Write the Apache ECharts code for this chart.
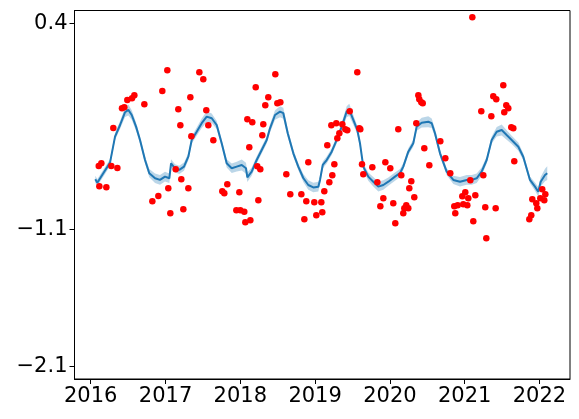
<!DOCTYPE html>
<html>
<head>
<meta charset="utf-8">
<script src="https://cdn.jsdelivr.net/npm/echarts@6/dist/echarts.min.js"></script>
<style>html,body{margin:0;padding:0;background:#fff}#c{width:579px;height:419px}</style>
</head>
<body>
<div id="c"></div>
<script>
// x tick labels (years) and y tick labels
const xTicks = [2016, 2017, 2018, 2019, 2020, 2021, 2022];
const yTicks = [0.4, -1.1, -2.1];

// observations (decimal year, value)
const pointX = [2016.107,2016.142,2016.115,2016.209,2016.275,2016.356,2016.302,2016.418,2016.449,2016.489,2016.552,2016.583,2016.717,2016.957,2017.024,2016.824,2016.904,2017.037,2017.064,2017.136,2017.211,2017.238,2017.305,2017.171,2017.198,2017.332,2017.345,2017.452,2017.505,2017.545,2017.572,2017.639,2017.759,2017.786,2017.826,2017.987,2017.947,2018.000,2018.053,2018.067,2018.134,2018.241,2018.094,2018.160,2018.120,2018.227,2018.267,2018.206,2018.294,2018.307,2018.334,2018.374,2018.468,2018.495,2018.535,2018.615,2018.668,2018.816,2018.882,2018.909,2018.856,2018.989,2019.016,2019.083,2019.096,2019.123,2019.190,2019.230,2019.257,2019.163,2019.217,2019.283,2019.297,2019.324,2019.364,2019.404,2019.430,2019.463,2019.564,2019.591,2019.604,2019.627,2019.644,2019.765,2019.832,2019.912,2019.872,2019.939,2020.005,2020.045,2020.072,2020.112,2020.152,2020.179,2020.193,2020.219,2020.246,2020.259,2020.286,2020.326,2020.353,2020.380,2020.393,2020.420,2020.439,2020.460,2020.527,2020.674,2020.741,2020.807,2020.861,2020.874,2020.906,2020.968,2020.981,2021.008,2021.035,2021.048,2021.075,2021.115,2021.102,2021.142,2021.222,2021.249,2021.275,2021.289,2021.356,2021.382,2021.422,2021.414,2021.516,2021.529,2021.556,2021.583,2021.623,2021.650,2021.663,2021.864,2021.890,2021.904,2021.957,2021.971,2022.011,2022.037,2022.064,2022.078];
const pointY = [-0.639,-0.620,-0.787,-0.794,-0.639,-0.654,-0.363,-0.219,-0.212,-0.159,-0.146,-0.124,-0.190,-0.093,0.058,-0.896,-0.858,-0.802,-0.984,-0.663,-0.736,-0.955,-0.802,-0.226,-0.343,-0.139,-0.423,0.043,-0.008,-0.234,-0.343,-0.452,-0.824,-0.838,-0.773,-0.831,-0.962,-0.962,-0.972,-1.049,-1.035,-0.889,-0.299,-0.321,-0.503,-0.642,-0.663,-0.066,-0.416,-0.336,-0.197,-0.139,0.029,-0.183,-0.175,-0.700,-0.845,-0.845,-0.896,-0.612,-1.028,-0.904,-0.998,-0.904,-0.977,-0.824,-0.758,-0.707,-0.627,-0.489,-0.343,-0.328,-0.438,-0.401,-0.336,-0.372,-0.379,-0.241,0.043,-0.365,-0.372,-0.627,-0.700,-0.649,-0.758,-0.875,-0.933,-0.612,-0.656,-0.911,-1.057,-0.372,-0.707,-0.984,-0.947,-0.926,-0.947,-0.802,-0.751,-0.867,-0.328,-0.124,-0.154,-0.175,-0.183,-0.510,-0.634,-0.459,-0.583,-0.692,-0.933,-0.984,-0.926,-0.860,-0.918,-0.831,-0.926,-0.875,-0.743,-1.042,0.444,-0.853,-0.241,-0.707,-0.940,-1.166,-0.277,-0.132,-0.154,-0.947,-0.052,-0.248,-0.197,-0.219,-0.357,-0.365,-0.605,-1.028,-0.998,-0.882,-0.911,-0.947,-0.875,-0.809,-0.889,-0.845];

// smoothed estimate (decimal year, value) and its band half-width
const lineX = [2016.061,2016.088,2016.168,2016.258,2016.325,2016.392,2016.459,2016.503,2016.548,2016.606,2016.659,2016.726,2016.783,2016.860,2016.926,2016.993,2017.051,2017.074,2017.127,2017.184,2017.247,2017.305,2017.350,2017.417,2017.484,2017.551,2017.618,2017.684,2017.751,2017.818,2017.885,2017.952,2018.019,2018.076,2018.094,2018.152,2018.219,2018.286,2018.353,2018.397,2018.464,2018.531,2018.575,2018.634,2018.709,2018.775,2018.842,2018.909,2018.976,2019.043,2019.066,2019.102,2019.155,2019.222,2019.289,2019.356,2019.422,2019.457,2019.511,2019.564,2019.600,2019.644,2019.711,2019.778,2019.845,2019.912,2019.979,2020.068,2020.135,2020.179,2020.246,2020.313,2020.358,2020.425,2020.513,2020.559,2020.603,2020.670,2020.759,2020.848,2020.937,2021.027,2021.094,2021.160,2021.227,2021.294,2021.361,2021.428,2021.495,2021.561,2021.628,2021.717,2021.783,2021.873,2021.940,2021.984,2022.016,2022.074,2022.104];
const lineY = [-0.736,-0.761,-0.692,-0.615,-0.426,-0.341,-0.248,-0.231,-0.268,-0.353,-0.450,-0.596,-0.692,-0.729,-0.741,-0.717,-0.729,-0.620,-0.656,-0.668,-0.644,-0.572,-0.450,-0.390,-0.328,-0.280,-0.292,-0.341,-0.474,-0.620,-0.656,-0.644,-0.632,-0.656,-0.722,-0.681,-0.596,-0.523,-0.450,-0.365,-0.268,-0.244,-0.255,-0.401,-0.547,-0.644,-0.727,-0.778,-0.796,-0.790,-0.741,-0.632,-0.596,-0.535,-0.450,-0.353,-0.244,-0.231,-0.304,-0.377,-0.474,-0.644,-0.717,-0.754,-0.790,-0.778,-0.754,-0.717,-0.692,-0.644,-0.535,-0.474,-0.353,-0.324,-0.317,-0.328,-0.401,-0.547,-0.681,-0.741,-0.754,-0.741,-0.741,-0.729,-0.681,-0.596,-0.450,-0.390,-0.377,-0.414,-0.450,-0.499,-0.572,-0.741,-0.790,-0.827,-0.754,-0.705,-0.692];
const bandHalf = [0.025,0.025,0.025,0.025,0.025,0.03,0.035,0.04,0.035,0.03,0.025,0.025,0.03,0.035,0.035,0.035,0.035,0.03,0.03,0.03,0.03,0.025,0.025,0.03,0.035,0.04,0.035,0.03,0.025,0.03,0.035,0.035,0.04,0.04,0.035,0.03,0.025,0.025,0.025,0.03,0.035,0.04,0.04,0.03,0.025,0.025,0.03,0.035,0.035,0.035,0.03,0.025,0.025,0.025,0.025,0.03,0.04,0.045,0.035,0.03,0.025,0.025,0.03,0.035,0.035,0.035,0.03,0.03,0.03,0.025,0.025,0.025,0.03,0.035,0.04,0.035,0.03,0.025,0.025,0.03,0.035,0.035,0.035,0.035,0.03,0.025,0.025,0.035,0.04,0.035,0.03,0.03,0.025,0.025,0.03,0.035,0.035,0.045,0.05];

const pts = pointX.map((x, i) => [x, pointY[i]]);
const line = lineX.map((x, i) => [x, lineY[i]]);

const font = 'DejaVu Sans';
const fmt = v => (v < 0 ? '\u2212' : '') + Math.abs(v).toFixed(1);

const chart = echarts.init(document.getElementById('c'), null, {renderer: 'canvas'});
chart.setOption({
  animation: false,
  backgroundColor: '#fff',
  grid: {left: 74.5, right: 9, top: 10.5, bottom: 40, show: true, borderColor: '#000', borderWidth: 1, backgroundColor: 'transparent'},
  xAxis: {
    type: 'value', min: 2015.783, max: 2022.408,
    splitLine: {show: false},
    axisLine: {show: true, onZero: false, lineStyle: {color: '#000', width: 1}},
    axisTick: {show: true, length: 5, lineStyle: {color: '#000'}, customValues: xTicks},
    axisLabel: {customValues: xTicks, color: '#000', fontFamily: font, fontSize: 21, margin: 7, formatter: v => String(Math.round(v))}
  },
  yAxis: {
    type: 'value', min: -2.191, max: 0.493,
    splitLine: {show: false},
    axisLine: {show: true, onZero: false, lineStyle: {color: '#000', width: 1}},
    axisTick: {show: true, length: 5, lineStyle: {color: '#000'}, customValues: yTicks},
    axisLabel: {customValues: yTicks, color: '#000', fontFamily: font, fontSize: 21, margin: 7, formatter: fmt}
  },
  series: [
    {
      type: 'custom', silent: true, z: 1,
      data: [[lineX[0], lineY[0]]],
      renderItem: function (params, api) {
        const up = lineX.map((x, i) => api.coord([x, lineY[i] + bandHalf[i]]));
        const lo = lineX.map((x, i) => api.coord([x, lineY[i] - bandHalf[i]])).reverse();
        return {type: 'polygon', shape: {points: up.concat(lo)}, style: {fill: 'rgba(31,119,180,0.3)', stroke: 'none'}};
      }
    },
    {type: 'line', data: line, symbol: 'none', lineStyle: {color: '#1f77b4', width: 2}, z: 2},
    {type: 'scatter', data: pts, symbolSize: 6.5, itemStyle: {color: '#ff0000', opacity: 1}, z: 3}
  ]
});
</script>
</body>
</html>
